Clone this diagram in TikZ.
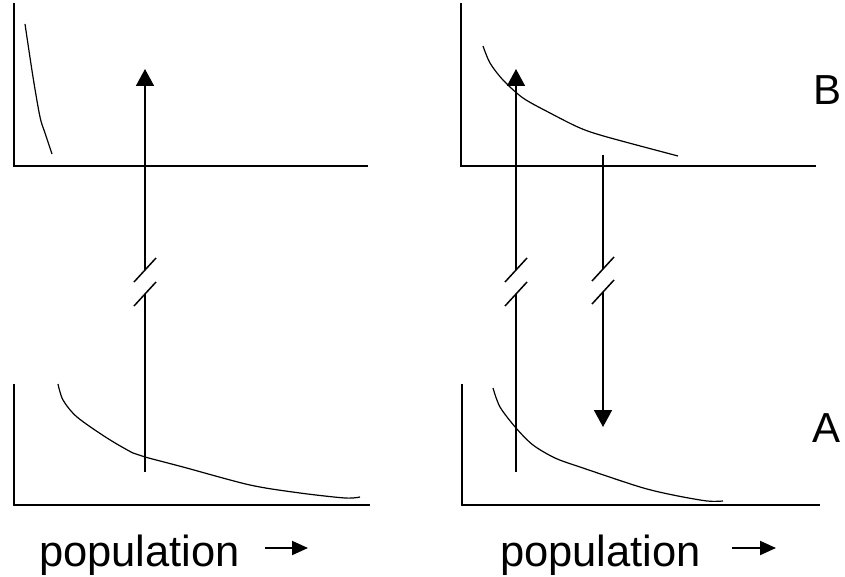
\documentclass[tikz,border=0pt]{standalone}
\usepackage{fontspec}
\setmainfont{Liberation Sans}
\usetikzlibrary{arrows.meta}
\begin{document}
\begin{tikzpicture}[x=1pt,y=-1pt,
  axis/.style={line width=1.5pt},
  curve/.style={line width=1.2pt},
  conn/.style={line width=1.8pt},
  thinconn/.style={line width=1.3pt},
  bigtip/.style={-{Triangle[length=17pt,width=18pt]}},
  brk/.style={line width=1.5pt},
  lbl/.style={font=\fontsize{42}{50}\selectfont, inner sep=0pt},
  poplbl/.style={font=\fontsize{43.5}{50}\selectfont, inner sep=0pt},
  poparrow/.style={line width=2pt,-{Triangle[length=16pt,width=14pt]}}
]
\useasboundingbox (0,0) rectangle (845,577);
% axes
\draw[axis] (14,3) -- (14,166) -- (368,166);
\draw[axis] (461,3) -- (461,166) -- (816,166);
\draw[axis] (14,384) -- (14,505) -- (370,505);
\draw[axis] (462,384) -- (462,505) -- (820,505);
% curves
\draw[curve] plot[smooth] coordinates {(25,24) (33,77) (40,117) (45,133) (52,154)};
\draw[curve] plot[smooth] coordinates {(483,46) (490,63) (503,80) (523,98) (550,113) (580,128) (607,137) (678,156)};
\draw[curve] plot[smooth] coordinates {(58,384) (63,400) (77,417) (107,438) (133,453) (145,457) (183,467) (250,485) (300,493) (345,498) (360,497)};
\draw[curve] plot[smooth] coordinates {(493,388) (500,407) (516,428) (533,445) (555,458) (580,467) (640,487) (673,495) (707,501) (723,501)};
% left arrow
\coordinate (l0) at (145,472);
\coordinate (l1) at (145,294);
\coordinate (l2) at (145,270);
\coordinate (l3) at (145,69);
\draw[conn] (l0) -- (l1);
\draw[conn,bigtip] (l2) -- (l3);
\draw[brk] ([shift={(-11,12)}]l1) -- ([shift={(11,-12)}]l1);
\draw[brk] ([shift={(-11,12)}]l2) -- ([shift={(11,-12)}]l2);
% right up arrow
\coordinate (r0) at (516,472);
\coordinate (r1) at (516,294);
\coordinate (r2) at (516,270);
\coordinate (r3) at (516,69);
\draw[thinconn] (r0) -- (r1);
\draw[conn,bigtip] (r2) -- (r3);
\draw[brk] ([shift={(-11,12)}]r1) -- ([shift={(11,-12)}]r1);
\draw[brk] ([shift={(-11,12)}]r2) -- ([shift={(11,-12)}]r2);
% right down arrow
\coordinate (d0) at (603,155);
\coordinate (d1) at (603,269);
\coordinate (d2) at (603,292);
\coordinate (d3) at (603,427);
\draw[thinconn] (d0) -- (d1);
\draw[conn,bigtip] (d2) -- (d3);
\draw[brk] ([shift={(-11,12)}]d1) -- ([shift={(11,-12)}]d1);
\draw[brk] ([shift={(-11,12)}]d2) -- ([shift={(11,-12)}]d2);
% labels
\node[lbl] (B) at (827,90) {B};
\node[lbl] (A) at (826,428) {A};
\node[poplbl,anchor=base west] (pop1) at (39,566) {population};
\node[poplbl,anchor=base west] (pop2) at (500,566) {population};
\coordinate (pa1s) at (265,548);
\coordinate (pa1e) at (308,548);
\coordinate (pa2s) at (732,548);
\coordinate (pa2e) at (776,548);
\draw[poparrow] (pa1s) -- (pa1e);
\draw[poparrow] (pa2s) -- (pa2e);
\end{tikzpicture}
\end{document}
